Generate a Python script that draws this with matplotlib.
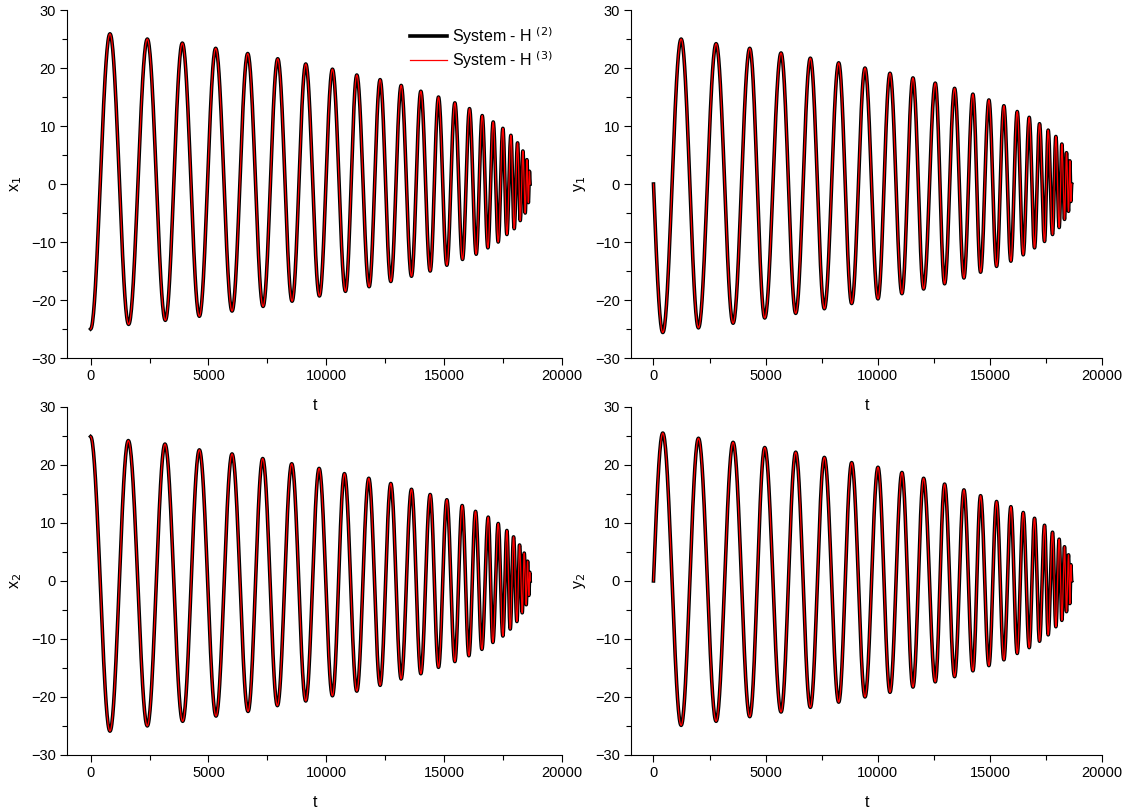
import matplotlib
matplotlib.use("Agg")
import matplotlib.pyplot as plt
import numpy as np

plt.rcParams['font.family'] = ['Liberation Sans', 'DejaVu Sans']
plt.rcParams['font.size'] = 10

# extrema (time, value) for each panel
# x1 : starts at -25, first a maximum
x1_t = [0, 821, 1613, 2406, 3170, 3891, 4613, 5306, 6000, 6665, 7316, 7938, 8547,
        9127, 9707, 10259, 10811, 11292, 11815, 12282, 12735, 13174, 13612, 14009,
        14405, 14758, 15112, 15452, 15777, 16074, 16357, 16612, 16853, 17079, 17291,
        17489, 17659, 17829, 17970, 18112, 18225, 18338, 18437, 18508, 18570, 18615, 18645]
x1_v = [-25.0, 25.9, -24.2, 25.0, -23.5, 24.3, -22.8, 23.4, -21.9, 22.5, -21.1, 21.6, -20.2,
        20.7, -19.3, 19.8, -18.5, 18.8, -17.7, 18.0, -16.8, 17.0, -15.9, 16.0,
        -15.0, 15.0, -14.0, 14.0, -13.0, 13.0, -12.1, 11.8, -11.0, 10.7, -10.0,
        9.6, -8.7, 8.4, -7.7, 7.1, -6.3, 5.7, -5.0, 4.2, -3.2, 2.2, 0.0]

# x2 : starts at +25, first a minimum
x2_t = [0, 821, 1599, 2406, 3155, 3905, 4613, 5320, 6000, 6679, 7301, 7924, 8532,
        9127, 9693, 10259, 10768, 11292, 11801, 12282, 12735, 13174, 13612, 14009,
        14405, 14758, 15112, 15452, 15763, 16046, 16329, 16598, 16867, 17065, 17291,
        17489, 17659, 17801, 17942, 18084, 18197, 18310, 18395, 18480, 18537, 18590, 18630, 18650]
x2_v = [24.9, -25.9, 24.2, -25.0, 23.6, -24.2, 22.6, -23.3, 21.9, -22.5, 21.1, -21.5, 20.2,
        -20.7, 19.4, -19.8, 18.5, -19.0, 17.7, -18.0, 16.8, -16.9, 15.8, -16.0,
        14.9, -14.9, 14.0, -13.9, 13.0, -12.9, 12.0, -11.8, 11.0, -10.6, 9.9,
        -9.5, 8.7, -8.3, 7.6, -7.0, 6.2, -5.5, 4.8, -4.1, 3.4, -2.5, 1.5, 0.0]

# y1 : starts at 0, first a minimum
y1_t = [0, 416, 1233, 2005, 2792, 3549, 4292, 4960, 5688, 6341, 6994, 7618, 8257,
        8836, 9430, 10009, 10544, 11078, 11568, 12043, 12563, 12979, 13424, 13840,
        14241, 14583, 14954, 15296, 15622, 15934, 16216, 16484, 16751, 16988, 17211,
        17434, 17597, 17790, 17939, 18087, 18206, 18325, 18414, 18503, 18563, 18610, 18645]
y1_v = [0.0, -25.6, 25.0, -24.8, 24.2, -24.0, 23.4, -23.1, 22.6, -22.3, 21.7, -21.5, 20.9,
        -20.6, 20.0, -19.8, 19.1, -18.9, 18.3, -18.1, 17.4, -17.2, 16.5, -16.2,
        15.5, -15.2, 14.5, -14.2, 13.5, -13.3, 12.5, -12.2, 11.5, -11.0, 10.4,
        -9.9, 9.3, -8.7, 8.2, -7.5, 6.9, -6.1, 5.4, -4.7, 4.0, -3.0, 0.0]

# y2 : starts at 0, first a maximum
y2_t = [0, 416, 1233, 2005, 2792, 3549, 4292, 4960, 5688, 6341, 6994, 7618, 8257,
        8836, 9430, 10009, 10544, 11078, 11568, 12043, 12563, 12979, 13424, 13840,
        14241, 14583, 14954, 15296, 15622, 15934, 16216, 16484, 16751, 16988, 17211,
        17434, 17597, 17790, 17939, 18087, 18206, 18325, 18414, 18503, 18563, 18610, 18645]
y2_v = [0.0, 25.5, -24.9, 24.6, -24.2, 23.9, -23.4, 23.0, -22.6, 22.2, -21.8, 21.3, -20.9,
        20.4, -20.0, 19.6, -19.2, 18.7, -18.3, 17.7, -17.4, 16.7, -16.5, 15.7,
        -15.5, 14.7, -14.6, 13.7, -13.6, 12.8, -12.5, 11.8, -11.5, 10.8, -10.4,
        9.6, -9.3, 8.4, -7.9, 7.2, -6.8, 5.9, -5.3, 4.5, -3.9, 2.8, 0.0]


def trace(tt, vv, first_quarter=False):
    # join consecutive extrema with half-cosine arcs
    ts, vs = [], []
    for i in range(len(tt) - 1):
        s = np.linspace(0, 1, 40, endpoint=False)
        if i == 0 and first_quarter:
            w = np.sin(np.pi / 2 * s)
        else:
            w = (1 - np.cos(np.pi * s)) / 2
        ts.append(tt[i] + (tt[i + 1] - tt[i]) * s)
        vs.append(vv[i] + (vv[i + 1] - vv[i]) * w)
    ts.append([tt[-1]])
    vs.append([vv[-1]])
    return np.concatenate(ts), np.concatenate(vs)


panels = [
    ([0.0584, 0.558, 0.4312, 0.4296], x1_t, x1_v, False, 'x$_1$'),
    ([0.5497, 0.558, 0.4103, 0.4296], y1_t, y1_v, True, 'y$_1$'),
    ([0.0584, 0.068, 0.4312, 0.4296], x2_t, x2_v, False, 'x$_2$'),
    ([0.5497, 0.068, 0.4103, 0.4296], y2_t, y2_v, True, 'y$_2$'),
]

fig = plt.figure(figsize=(11.48, 8.10), dpi=100)
for k, (rect, tt, vv, fq, lab) in enumerate(panels):
    ax = fig.add_axes(rect)
    ax.patch.set_alpha(0)  # keep the upper panels' t labels visible
    t, v = trace(tt, vv, fq)
    ax.plot(t, v, color='black', linewidth=2.6, label='System - H $^{(2)}$')
    ax.plot(t, v, color='red', linewidth=0.9, label='System - H $^{(3)}$')
    ax.set_xlim(-1000, 20000)
    ax.set_ylim(-30, 30)
    ax.set_xticks([0, 5000, 10000, 15000, 20000])
    ax.set_xticks(np.arange(2500, 20000, 5000), minor=True)
    ax.set_yticks([-30, -20, -10, 0, 10, 20, 30])
    ax.set_yticks(np.arange(-25, 30, 10), minor=True)
    ax.spines['top'].set_visible(False)
    ax.spines['right'].set_visible(False)
    ax.tick_params(which='major', direction='out', length=5, width=0.8, labelsize=10.5, pad=3)
    ax.tick_params(which='minor', direction='out', length=3.5, width=0.8)
    ax.set_xlabel('t', fontsize=11.5, labelpad=11)
    ax.set_ylabel(lab, fontsize=11.5, labelpad=5)
    if k == 0:
        ax.legend(loc='upper right', frameon=False, fontsize=11.5, handlelength=2.3,
                  handletextpad=0.3, borderaxespad=0.2, labelspacing=0.15,
                  bbox_to_anchor=(1.0, 0.985))

fig.savefig('out.png', dpi=100)
